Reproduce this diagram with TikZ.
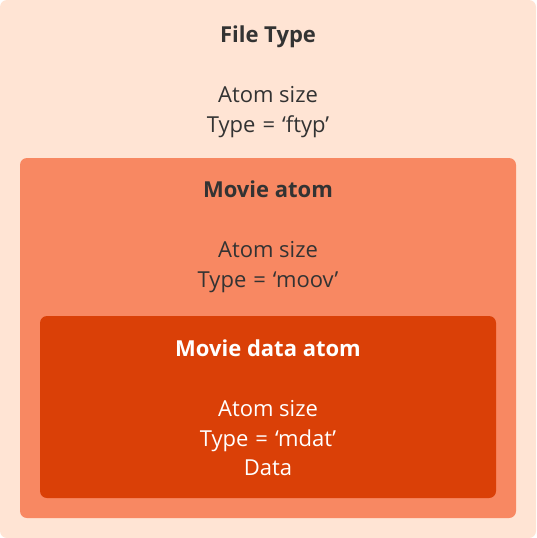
\documentclass[tikz,border=0pt]{standalone}
\usepackage{fontspec}
\setmainfont{Open Sans}
\definecolor{outerc}{HTML}{FFE4D4}
\definecolor{midc}{HTML}{F88862}
\definecolor{innerc}{HTML}{DA4007}
\definecolor{darktext}{HTML}{333333}
\newcommand{\eqsp}{\hspace{7pt}=\hspace{7pt}}
\begin{document}
\begin{tikzpicture}[x=1pt,y=-1pt,
  box/.style={rounded corners=7pt, draw=none},
  lbl/.style={font=\fontsize{22}{26}\selectfont, inner sep=0pt, anchor=base},
  ttl/.style={font=\fontsize{22}{26}\selectfont\bfseries, inner sep=0pt, anchor=base}]
\useasboundingbox (0,0) rectangle (536,538);
\fill[outerc, box] (0,0) rectangle (536,538);
\fill[midc, box] (20,158) rectangle (516,518);
\fill[innerc, box] (40,316) rectangle (496,498);
\node[ttl, text=darktext] (ft) at (268,42.5) {File Type};
\node[lbl, text=darktext] (fs) at (268,102.5) {Atom size};
\node[lbl, text=darktext] (fy) at (268,132.5) {Type\eqsp‘ftyp’};
\node[ttl, text=darktext] (mt) at (268,197.5) {Movie atom};
\node[lbl, text=darktext] (ms) at (268,257.5) {Atom size};
\node[lbl, text=darktext] (my) at (268,287.5) {Type\eqsp‘moov’};
\node[ttl, text=white] (dt) at (268,356.5) {Movie data atom};
\node[lbl, text=white] (ds) at (268,416.5) {Atom size};
\node[lbl, text=white] (dy) at (268,446.5) {Type\eqsp‘mdat’};
\node[lbl, text=white] (dd) at (268,475.5) {Data};
\end{tikzpicture}
\end{document}
